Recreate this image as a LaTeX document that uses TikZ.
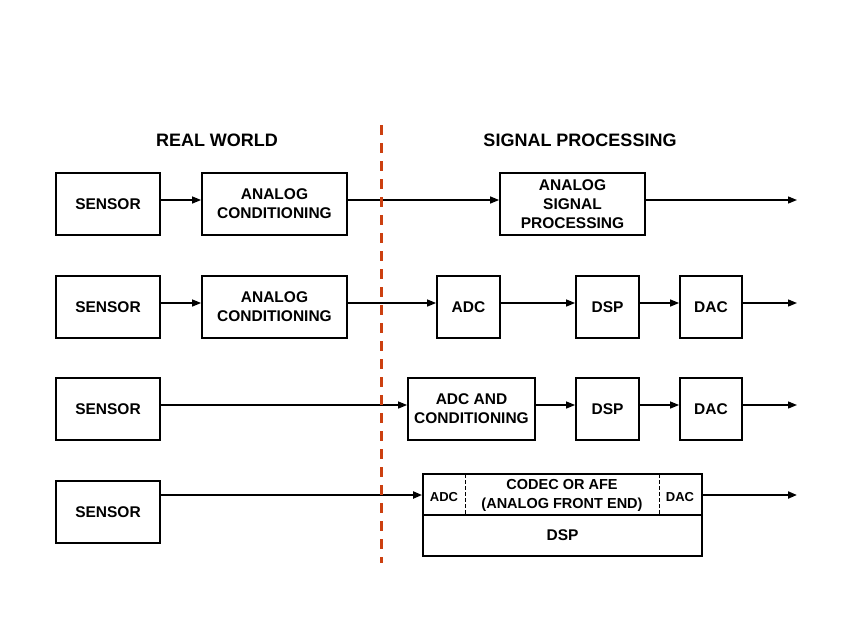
\documentclass[tikz,border=0pt]{standalone}
\usepackage{fontspec}
\setmainfont{Liberation Sans}
\usetikzlibrary{arrows.meta}
\begin{document}
\begin{tikzpicture}[x=1pt,y=-1pt,
  box/.style={draw,line width=1.8pt,inner sep=0pt,align=center,font=\fontsize{15.5}{19}\selectfont\bfseries},
  arr/.style={line width=1.3pt,-{Triangle[length=9pt,width=7pt]}},
  thickarr/.style={line width=2pt,-{Triangle[length=9pt,width=7pt]}},
  hdr/.style={font=\fontsize{18}{21}\selectfont\bfseries},
  divider/.style={draw={rgb,255:red,204;green,64;blue,16},line width=3pt,dash pattern=on 10pt off 8pt}]
\useasboundingbox (0,0) rectangle (850,638);
% headers
\node[hdr] (hrw) at (217,140) {REAL WORLD};
\node[hdr] (hsp) at (580,140) {SIGNAL PROCESSING};
% row 1
\node[box,minimum width=104pt,minimum height=62pt] (s1) at (108,204) {SENSOR};
\node[box,minimum width=145pt,minimum height=62pt] (ac1) at (274.5,204) {ANALOG\\CONDITIONING};
\node[box,minimum width=145pt,minimum height=62pt] (asp) at (572.5,204) {ANALOG\\SIGNAL\\PROCESSING};
\coordinate (o1) at (797,200);
\draw[arr] ([yshift=4pt]s1.east) -- ([yshift=4pt]ac1.west);
\draw[arr] ([yshift=4pt]ac1.east) -- ([yshift=4pt]asp.west);
\draw[arr] ([yshift=4pt]asp.east) -- (o1);
% row 2
\node[box,minimum width=104pt,minimum height=62pt] (s2) at (108,307) {SENSOR};
\node[box,minimum width=145pt,minimum height=62pt] (ac2) at (274.5,307) {ANALOG\\CONDITIONING};
\node[box,minimum width=63pt,minimum height=62pt] (adc2) at (468.5,307) {ADC};
\node[box,minimum width=63pt,minimum height=62pt] (dsp2) at (607.5,307) {DSP};
\node[box,minimum width=62pt,minimum height=62pt] (dac2) at (711,307) {DAC};
\coordinate (o2) at (797,303);
\draw[arr] ([yshift=4pt]s2.east) -- ([yshift=4pt]ac2.west);
\draw[arr] ([yshift=4pt]ac2.east) -- ([yshift=4pt]adc2.west);
\draw[arr] ([yshift=4pt]adc2.east) -- ([yshift=4pt]dsp2.west);
\draw[arr] ([yshift=4pt]dsp2.east) -- ([yshift=4pt]dac2.west);
\draw[arr] ([yshift=4pt]dac2.east) -- (o2);
% row 3
\node[box,minimum width=104pt,minimum height=62pt] (s3) at (108,409) {SENSOR};
\node[box,minimum width=127pt,minimum height=62pt] (adc3) at (471.5,409) {ADC AND\\CONDITIONING};
\node[box,minimum width=63pt,minimum height=62pt] (dsp3) at (607.5,409) {DSP};
\node[box,minimum width=62pt,minimum height=62pt] (dac3) at (711,409) {DAC};
\coordinate (o3) at (797,405);
\draw[arr] ([yshift=4pt]s3.east) -- ([yshift=4pt]adc3.west);
\draw[arr] ([yshift=4pt]adc3.east) -- ([yshift=4pt]dsp3.west);
\draw[arr] ([yshift=4pt]dsp3.east) -- ([yshift=4pt]dac3.west);
\draw[arr] ([yshift=4pt]dac3.east) -- (o3);
% row 4
\node[box,minimum width=104pt,minimum height=62pt] (s4) at (108,512) {SENSOR};
\node[box,minimum width=279pt,minimum height=41pt] (codec) at (562.5,494.5) {};
\node[box,minimum width=279pt,minimum height=41pt] (dsp4) at (562.5,535.5) {DSP};
\node[font=\fontsize{13}{15}\selectfont\bfseries] (adc4) at (444,497) {ADC};
\node[font=\fontsize{13}{15}\selectfont\bfseries] (dac4) at (680,497) {DAC};
\node[align=center,font=\fontsize{14.5}{19}\selectfont\bfseries] (afe) at (562,495) {CODEC OR AFE\\(ANALOG FRONT END)};
\draw[line width=0.8pt,dash pattern=on 4pt off 2pt] (465,474) -- (465,515);
\draw[line width=0.8pt,dash pattern=on 4pt off 2pt] (659,474) -- (659,515);
\coordinate (o4) at (797,495);
\draw[thickarr] ([yshift=-0.5pt]s4.east |- codec.west) -- ([yshift=-0.5pt]codec.west);
\draw[thickarr] ([yshift=-0.5pt]codec.east) -- (o4);
% divider
\draw[divider] (381,125) -- (381,563);
\end{tikzpicture}
\end{document}
